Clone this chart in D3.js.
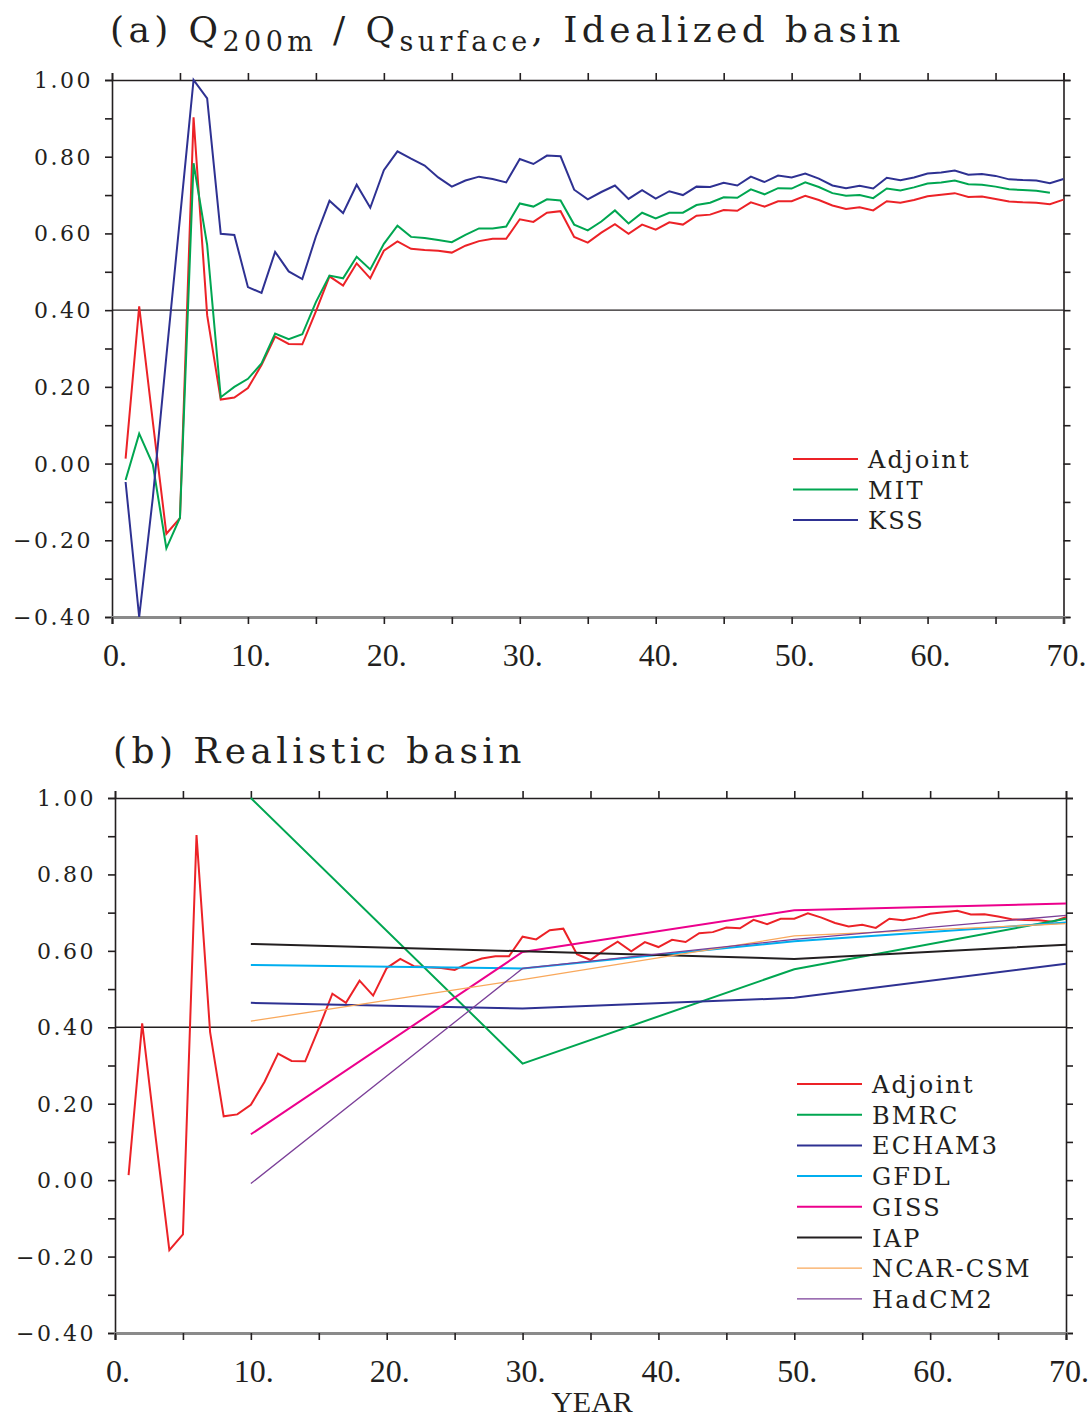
<!DOCTYPE html>
<html>
<head>
<meta charset="utf-8">
<title>Q200m / Qsurface</title>
<script src="https://cdnjs.cloudflare.com/ajax/libs/d3/7.8.5/d3.min.js"></script>
<style>
  body { margin: 0; background: #fff; }
  svg text { font-family: "DejaVu Serif", "Liberation Serif", serif; fill: #231f20; }
  .ylab { font-size: 22px; letter-spacing: 2.5px; }
  .xlab { font-family: "Liberation Serif", serif; font-size: 32px; }
  .leg { font-size: 24px; letter-spacing: 2.2px; }
  .ttl { font-size: 36px; letter-spacing: 4.4px; }
</style>
</head>
<body>
<div id="chart"></div>
<script>
// ---- data ----
var years = d3.range(1, 71);

var adjoint = [0.013, 0.41, 0.11, -0.183, -0.142, 0.903, 0.387, 0.167, 0.172, 0.197,
  0.257, 0.331, 0.312, 0.311, 0.397, 0.488, 0.464, 0.522, 0.483, 0.555,
  0.579, 0.560, 0.557, 0.555, 0.550, 0.568, 0.580, 0.586, 0.586, 0.637,
  0.630, 0.654, 0.658, 0.591, 0.576, 0.602, 0.624, 0.599, 0.623, 0.610,
  0.629, 0.623, 0.646, 0.649, 0.661, 0.659, 0.681, 0.670, 0.684, 0.684,
  0.698, 0.687, 0.673, 0.664, 0.668, 0.660, 0.684, 0.680, 0.687, 0.697,
  0.701, 0.705, 0.695, 0.696, 0.690, 0.683, 0.681, 0.680, 0.676, 0.688];

// MIT stops at year 69
var mit = [-0.043, 0.078, -0.002, -0.221, -0.141, 0.783, 0.570, 0.173, 0.200, 0.221,
  0.261, 0.339, 0.324, 0.337, 0.421, 0.490, 0.483, 0.539, 0.506, 0.573,
  0.620, 0.591, 0.588, 0.583, 0.577, 0.596, 0.613, 0.613, 0.618, 0.678,
  0.670, 0.689, 0.686, 0.623, 0.608, 0.631, 0.660, 0.626, 0.654, 0.639,
  0.654, 0.654, 0.674, 0.680, 0.694, 0.693, 0.715, 0.702, 0.718, 0.717,
  0.733, 0.721, 0.705, 0.698, 0.700, 0.692, 0.717, 0.712, 0.720, 0.730,
  0.733, 0.738, 0.728, 0.727, 0.722, 0.715, 0.713, 0.711, 0.706];

var kss = [-0.048, -0.40, -0.09, 0.28, 0.64, 1.00, 0.952, 0.599, 0.596, 0.460,
  0.445, 0.552, 0.501, 0.481, 0.592, 0.685, 0.653, 0.727, 0.667, 0.765,
  0.814, 0.795, 0.777, 0.746, 0.722, 0.738, 0.748, 0.742, 0.733, 0.794,
  0.781, 0.803, 0.801, 0.714, 0.689, 0.708, 0.725, 0.690, 0.713, 0.691,
  0.710, 0.700, 0.722, 0.721, 0.732, 0.725, 0.748, 0.734, 0.751, 0.746,
  0.756, 0.743, 0.725, 0.718, 0.724, 0.717, 0.745, 0.739, 0.746, 0.756,
  0.759, 0.764, 0.753, 0.755, 0.750, 0.741, 0.739, 0.738, 0.731, 0.742];

// realistic basin models, sampled every 20 years
var modelYears = [10, 30, 50, 70];
var bmrc    = [1.00, 0.305, 0.552, 0.684];
var echam3  = [0.464, 0.449, 0.477, 0.566];
var gfdl    = [0.563, 0.554, 0.625, 0.674];
var giss    = [0.120, 0.597, 0.706, 0.724];
var iap     = [0.618, 0.599, 0.579, 0.616];
var ncarcsm = [0.416, 0.525, 0.639, 0.671];
var hadcm2  = [-0.009, 0.554, 0.630, 0.693];

var xTicks = [0, 10, 20, 30, 40, 50, 60, 70];
var yTicks = [-0.4, -0.2, 0, 0.2, 0.4, 0.6, 0.8, 1.0];

var col = {
  red: "#ec2227", green: "#00a651", blue: "#2e3192", cyan: "#00aeef",
  magenta: "#ec008c", black: "#231f20", orange: "#f9a85b", purple: "#7b3f98"
};

var W = 1089, H = 1418;
var svg = d3.select("#chart").append("svg").attr("width", W).attr("height", H);

function panel(cfg) {
  var x = d3.scaleLinear().domain([0, 70]).range([cfg.x0, cfg.x1]);
  var y = d3.scaleLinear().domain([-0.4, 1.0]).range([cfg.y0, cfg.y1]);
  var g = svg.append("g");

  var yMinor = d3.range(-4, 11).map(function(d) { return d / 10; });
  var xMinor = d3.range(0, 71, 5);

  // left axis
  g.append("g").attr("transform", "translate(" + cfg.x0 + ",0)")
    .call(d3.axisLeft(y).tickValues(yMinor).tickSize(7).tickFormat(""))
    .call(function(a) { a.selectAll("line,path").attr("stroke", col.black).attr("stroke-width", 1.6); });
  g.append("g").selectAll("text").data(yTicks).enter().append("text")
    .attr("class", "ylab")
    .attr("x", cfg.x0 - 19).attr("y", function(d) { return y(d) + 8; })
    .attr("text-anchor", "end")
    .text(function(d) { return d3.format(".2f")(d); });

  // right axis
  g.append("g").attr("transform", "translate(" + cfg.x1 + ",0)")
    .call(d3.axisRight(y).tickValues(yMinor).tickSize(7).tickFormat(""))
    .call(function(a) { a.selectAll("line,path").attr("stroke", col.black).attr("stroke-width", 1.6); });

  // top axis
  g.append("g").attr("transform", "translate(0," + cfg.y1 + ")")
    .call(d3.axisTop(x).tickValues(xMinor).tickSize(7).tickFormat(""))
    .call(function(a) { a.selectAll("line,path").attr("stroke", col.black).attr("stroke-width", 1.6); });

  // bottom axis
  var bx = g.append("g").attr("transform", "translate(0," + cfg.y0 + ")")
    .call(d3.axisBottom(x).tickValues(xMinor).tickSize(7).tickFormat(""));
  bx.selectAll("line").attr("stroke", col.black).attr("stroke-width", 1.6);
  bx.select("path").attr("stroke", "#8a8a8a").attr("stroke-width", 3);
  g.append("g").selectAll("text").data(xTicks).enter().append("text")
    .attr("class", "xlab")
    .attr("x", function(d) { return x(d) + 3; }).attr("y", cfg.y0 + 49)
    .attr("text-anchor", "middle")
    .text(function(d) { return d + "."; });

  // reference line at 0.40
  g.append("line")
    .attr("x1", cfg.x0).attr("x2", cfg.x1)
    .attr("y1", y(0.4)).attr("y2", y(0.4))
    .attr("stroke", col.black).attr("stroke-width", 1.4);

  var line = d3.line()
    .x(function(d) { return x(d[0]); })
    .y(function(d) { return y(d[1]); });

  cfg.series.forEach(function(s) {
    g.append("path")
      .datum(d3.zip(s.xs, s.vals))
      .attr("d", line)
      .attr("fill", "none")
      .attr("stroke", s.color)
      .attr("stroke-width", s.w || 2)
      .attr("stroke-linejoin", "miter");
  });

  // legend
  var lg = g.append("g");
  cfg.series.forEach(function(s, i) {
    var ly = cfg.legY + i * cfg.legStep;
    lg.append("line")
      .attr("x1", cfg.legX).attr("x2", cfg.legX + 65)
      .attr("y1", ly).attr("y2", ly)
      .attr("stroke", s.color).attr("stroke-width", s.w || 2);
    lg.append("text").attr("class", "leg")
      .attr("x", cfg.legX + 75).attr("y", ly + 9)
      .text(s.name);
  });
  return g;
}

panel({
  x0: 112, x1: 1063.5, y0: 617, y1: 80,
  legX: 793, legY: 459, legStep: 30.5,
  series: [
    { name: "Adjoint", xs: years, vals: adjoint, color: col.red },
    { name: "MIT", xs: years.slice(0, mit.length), vals: mit, color: col.green },
    { name: "KSS", xs: years, vals: kss, color: col.blue }
  ]
});

panel({
  x0: 115, x1: 1066, y0: 1333, y1: 798,
  legX: 797, legY: 1084, legStep: 30.7,
  series: [
    { name: "Adjoint", xs: years, vals: adjoint, color: col.red },
    { name: "BMRC", xs: modelYears, vals: bmrc, color: col.green },
    { name: "ECHAM3", xs: modelYears, vals: echam3, color: col.blue },
    { name: "GFDL", xs: modelYears, vals: gfdl, color: col.cyan },
    { name: "GISS", xs: modelYears, vals: giss, color: col.magenta },
    { name: "IAP", xs: modelYears, vals: iap, color: col.black },
    { name: "NCAR-CSM", xs: modelYears, vals: ncarcsm, color: col.orange, w: 1.3 },
    { name: "HadCM2", xs: modelYears, vals: hadcm2, color: col.purple, w: 1.3 }
  ]
});

// titles
var t1 = svg.append("text").attr("class", "ttl").attr("x", 110).attr("y", 42);
t1.append("tspan").text("(a) Q");
t1.append("tspan").attr("dy", 9).style("font-size", "27px").text("200m");
t1.append("tspan").attr("dy", -9).text(" / Q");
t1.append("tspan").attr("dy", 9).style("font-size", "27px").text("surface");
t1.append("tspan").attr("dy", -9).text(", Idealized basin");

svg.append("text").attr("class", "ttl").attr("x", 113).attr("y", 763)
  .text("(b) Realistic basin");

svg.append("text").attr("class", "xlab")
  .attr("x", 592).attr("y", 1412).attr("text-anchor", "middle")
  .style("font-size", "30px")
  .text("YEAR");
</script>
</body>
</html>
